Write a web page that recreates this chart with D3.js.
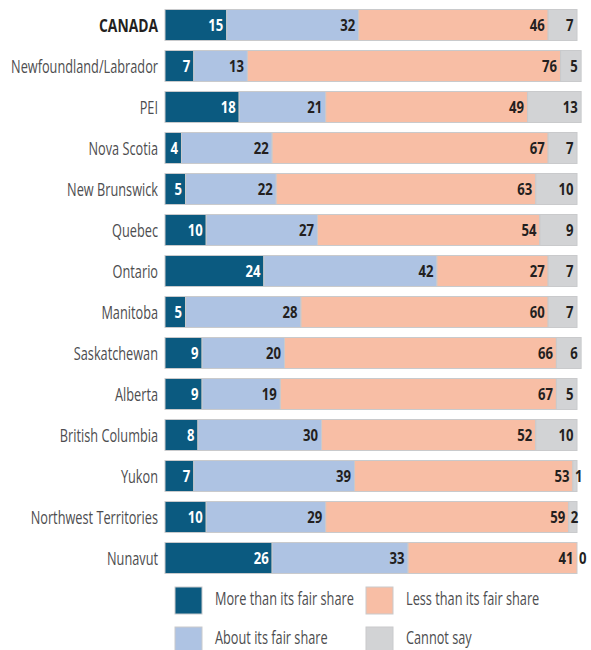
<!DOCTYPE html>
<html><head><meta charset="utf-8">
<script src="https://cdn.jsdelivr.net/npm/d3@7"></script>
<style>
body{margin:0;background:#fff;}
text{font-family:"Open Sans","Noto Sans",sans-serif;}
</style></head>
<body><svg id="c" width="591" height="650"></svg>
<script>
const categories = ["CANADA","Newfoundland/Labrador","PEI","Nova Scotia","New Brunswick","Quebec","Ontario","Manitoba","Saskatchewan","Alberta","British Columbia","Yukon","Northwest Territories","Nunavut"];
const seriesNames = ["More than its fair share","About its fair share","Less than its fair share","Cannot say"];
const moreThan = [15,7,18,4,5,10,24,5,9,9,8,7,10,26];
const aboutFair = [32,13,21,22,22,27,42,28,20,19,30,39,29,33];
const lessThan = [46,76,49,67,63,54,27,60,66,67,52,53,59,41];
const cannotSay = [7,5,13,7,10,9,7,7,6,5,10,1,2,0];
const colors = ["#0b5a80","#aec3e3","#f8bea5","#d2d3d5"];

const series = [moreThan, aboutFair, lessThan, cannotSay];
const svg = d3.select("#c");
const x = d3.scaleLinear().domain([0,100]).range([165,577]);
const y = d3.scaleBand().domain(categories).range([4.5,578.5]).paddingInner(0.244).paddingOuter(0.122);

function natural(str, size, weight){
  const t = svg.append("text").attr("font-size",size).attr("font-weight",weight).text(str);
  const w = t.node().getComputedTextLength(); t.remove(); return w;
}
const catSize = 18.5, valSize = 16.5;
const sxN = 147 / natural("Newfoundland/Labrador", catSize, "normal");
const sxB = 15 / natural("46", valSize, "bold");
const sxC = 59 / natural("CANADA", catSize, "bold");

function place(t, px, py, sx){
  t.attr("x",0).attr("y",0).attr("transform",`translate(${px},${py}) scale(${sx},1)`);
}

const rows = categories.map((c,i)=>{
  let acc=0;
  return series.map((s,k)=>{const v=s[i]; const r={cat:c,k,v,x0:acc,x1:acc+v}; acc+=v; return r;});
});

const g = svg.append("g");
rows.forEach(segs=>{
  segs.forEach(d=>{
    if(d.v<=0) return;
    g.append("rect").attr("x",x(d.x0)).attr("y",y(d.cat)).attr("width",x(d.x1)-x(d.x0)).attr("height",y.bandwidth())
      .attr("fill",colors[d.k]).attr("stroke","#c9cacc").attr("stroke-width",1);
  });
  segs.forEach(d=>{
    const t = g.append("text").text(d.v).attr("dy","0.36em")
      .attr("text-anchor","end").attr("font-weight","bold").attr("font-size",valSize)
      .attr("fill",d.k===0?"#ffffff":"#231f20");
    const w = t.node().getComputedTextLength()*sxB;
    const xr = Math.max(x(d.x1)-3.5, x(d.x0)+w+2);
    place(t, xr, y(d.cat)+y.bandwidth()/2, sxB);
  });
});

categories.forEach(c=>{
  const t = g.append("text").attr("dy","0.36em").attr("text-anchor","end")
    .attr("font-size",catSize).attr("fill",c==="CANADA"?"#231f20":"#4d4d4f")
    .attr("font-weight",c==="CANADA"?"bold":"normal").text(c);
  place(t, 158, y(c)+y.bandwidth()/2, c==="CANADA"?sxC:sxN);
});

const legPos = [[175,587,605],[175,627,643.5],[366,587,605],[366,627,643.5]];
seriesNames.forEach((n,k)=>{
  const [lx,ly,base]=legPos[k];
  svg.append("rect").attr("x",lx).attr("y",ly).attr("width",27).attr("height",27).attr("fill",colors[k]).attr("stroke","#c9cacc");
  const t = svg.append("text").attr("font-size",catSize).attr("fill","#4d4d4f").text(n);
  place(t, lx+40, base, sxN);
});
</script></body></html>
